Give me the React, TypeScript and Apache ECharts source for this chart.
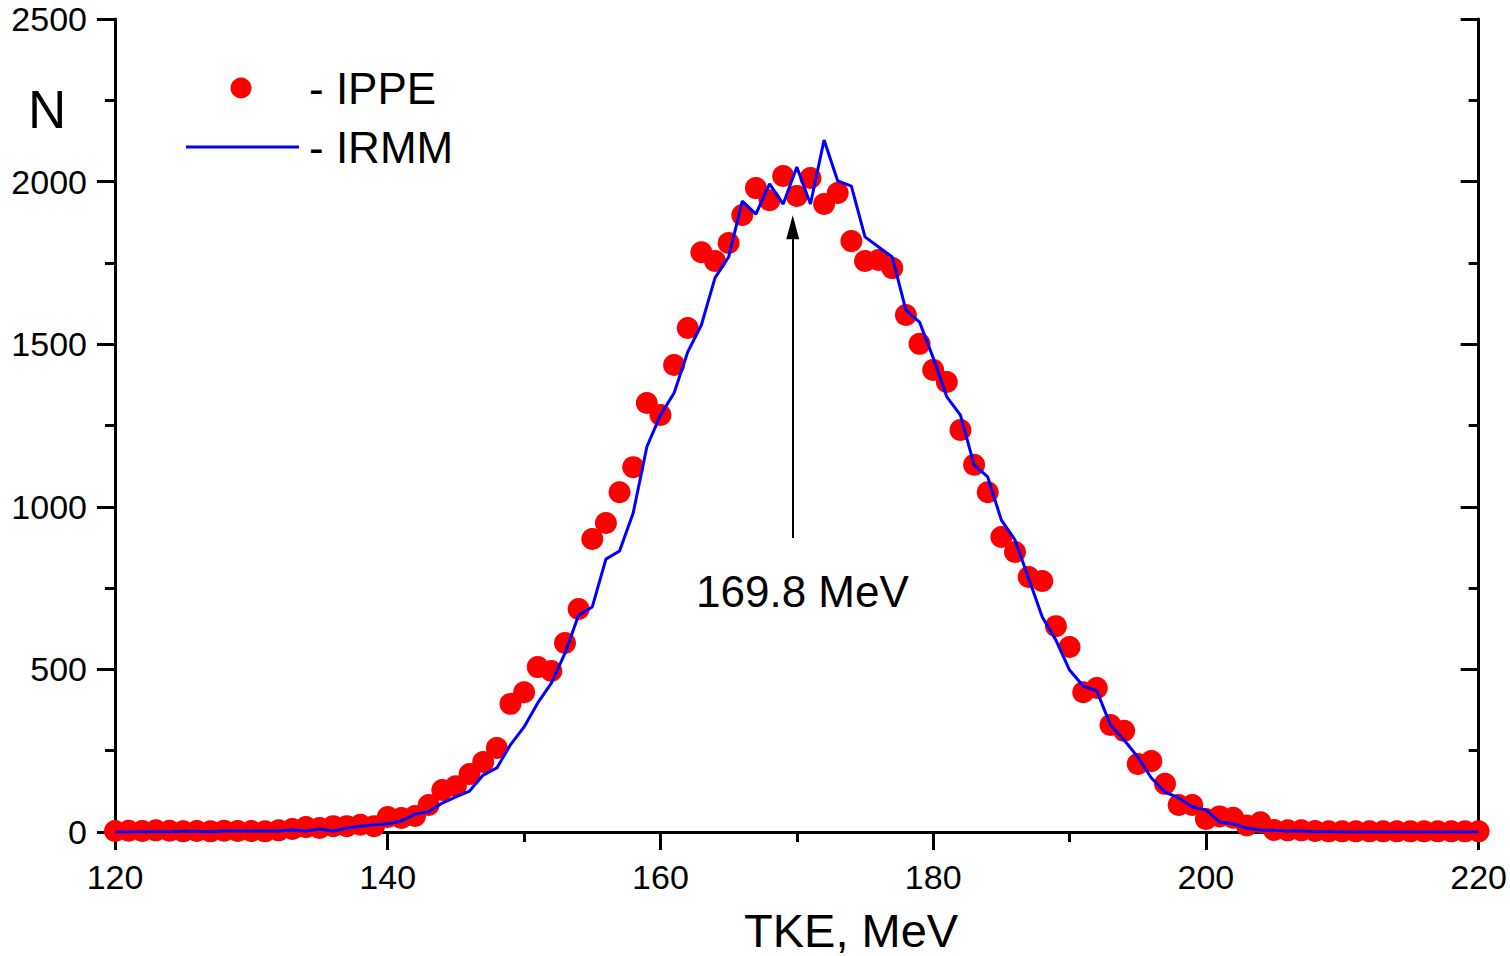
import React, { useEffect, useRef } from "react";
import * as echarts from "echarts";

const energies = [
  120, 121, 122, 123, 124, 125, 126, 127, 128, 129,
  130, 131, 132, 133, 134, 135, 136, 137, 138, 139,
  140, 141, 142, 143, 144, 145, 146, 147, 148, 149,
  150, 151, 152, 153, 154, 155, 156, 157, 158, 159,
  160, 161, 162, 163, 164, 165, 166, 167, 168, 169,
  170, 171, 172, 173, 174, 175, 176, 177, 178, 179,
  180, 181, 182, 183, 184, 185, 186, 187, 188, 189,
  190, 191, 192, 193, 194, 195, 196, 197, 198, 199,
  200, 201, 202, 203, 204, 205, 206, 207, 208, 209,
  210, 211, 212, 213, 214, 215, 216, 217, 218, 219,
  220,
];

const ippe = [
  3, 4, 3, 5, 4, 2, 3, 2, 4, 3,
  3, 2, 5, 9, 15, 12, 18, 18, 22, 18,
  46, 43, 49, 83, 129, 141, 178, 215, 258, 394,
  430, 507, 495, 581, 686, 901, 950, 1045, 1122, 1319,
  1282, 1436, 1550, 1783, 1756, 1811, 1897, 1980, 1943, 2017,
  1956, 2011, 1931, 1965, 1817, 1756, 1759, 1734, 1590, 1501,
  1421, 1384, 1236, 1129, 1045, 907, 861, 784, 772, 633,
  569, 430, 443, 329, 311, 209, 218, 148, 83, 83,
  40, 48, 44, 20, 30, 6, 5, 5, 3, 2,
  2, 2, 2, 2, 2, 2, 2, 2, 2, 2,
  2,
];

const irmm = [
  0, 0, 1, 1, 1, 2, 2, 1, 3, 3,
  3, 3, 3, 6, 3, 9, 3, 12, 18, 22,
  25, 34, 55, 62, 89, 108, 126, 175, 197, 268,
  323, 397, 458, 550, 667, 692, 839, 864, 981, 1184,
  1282, 1350, 1476, 1559, 1704, 1768, 1940, 1900, 1993, 1931,
  2045, 1931, 2128, 2002, 1986, 1830, 1799, 1768, 1605, 1568,
  1458, 1338, 1282, 1129, 1092, 959, 898, 780, 661, 590,
  498, 449, 434, 329, 283, 231, 166, 123, 105, 77,
  68, 31, 25, 12, 6, 5, 3, 3, 1, 1,
  0, 0, 0, 0, 0, 0, 0, 0, 0, 0,
  0,
];

const arrowEnergy = 169.7;
const arrowFrom = 904;
const arrowTo = 1860;
const arrowLabel = "169.8 MeV";

const FONT = "'Liberation Sans', Arial, sans-serif";

export default function App() {
  const ref = useRef<HTMLDivElement>(null);

  useEffect(() => {
    if (!ref.current) return;
    const chart = echarts.init(ref.current, null, { renderer: "svg" });

    const axisLine = { show: true, lineStyle: { color: "#000", width: 3 } };
    const plain = (v: number) => String(v);

    const option: any = {
      animation: false,
      backgroundColor: "#fff",
      grid: { left: 115, right: 31, top: 19, bottom: 124, containLabel: false },
      xAxis: [
        {
          type: "value",
          position: "bottom",
          min: 120,
          max: 220,
          interval: 20,
          axisLine,
          axisTick: { show: true, inside: false, length: 18, lineStyle: { color: "#000", width: 3 } },
          minorTick: { show: true, splitNumber: 2, length: 9, lineStyle: { color: "#000", width: 3 } },
          splitLine: { show: false },
          axisLabel: { color: "#000", fontSize: 34, fontFamily: FONT, margin: 28, formatter: plain },
        },
        {
          type: "value",
          position: "top",
          min: 120,
          max: 220,
          interval: 20,
          axisLine,
          axisTick: { show: true, inside: true, length: 18, lineStyle: { color: "#000", width: 3 } },
          minorTick: { show: true, splitNumber: 2, length: 10, lineStyle: { color: "#000", width: 3 } },
          splitLine: { show: false },
          axisLabel: { show: false },
        },
      ],
      yAxis: [
        {
          type: "value",
          position: "left",
          min: 0,
          max: 2500,
          interval: 500,
          axisLine,
          axisTick: { show: true, inside: false, length: 18, lineStyle: { color: "#000", width: 3 } },
          minorTick: { show: true, splitNumber: 2, length: 10, lineStyle: { color: "#000", width: 3 } },
          splitLine: { show: false },
          axisLabel: { color: "#000", fontSize: 34, fontFamily: FONT, margin: 28, formatter: plain },
        },
        {
          type: "value",
          position: "right",
          min: 0,
          max: 2500,
          interval: 500,
          axisLine,
          axisTick: { show: true, inside: true, length: 18, lineStyle: { color: "#000", width: 3 } },
          minorTick: { show: true, splitNumber: 2, length: 10, lineStyle: { color: "#000", width: 3 } },
          splitLine: { show: false },
          axisLabel: { show: false },
        },
      ],
      series: [
        {
          name: "IPPE",
          type: "scatter",
          xAxisIndex: 0,
          yAxisIndex: 0,
          symbol: "circle",
          symbolSize: 22,
          itemStyle: { color: "#ff0000", opacity: 1 },
          data: energies.map((e, i) => [e, ippe[i]]),
          z: 2,
        },
        {
          name: "IRMM",
          type: "line",
          xAxisIndex: 0,
          yAxisIndex: 0,
          symbol: "none",
          lineStyle: { color: "#0000ff", width: 3 },
          data: energies.map((e, i) => [e, irmm[i]]),
          z: 3,
          markLine: {
            silent: true,
            symbol: ["none", "triangle"],
            symbolSize: [13, 24],
            lineStyle: { color: "#000", width: 2, type: "solid" },
            label: { show: false },
            data: [[{ coord: [arrowEnergy, arrowFrom] }, { coord: [arrowEnergy, arrowTo] }]],
          },
        },
      ],
      graphic: [
        {
          type: "text",
          x: 696,
          y: 591,
          style: { text: arrowLabel, fontSize: 44, fontFamily: FONT, fill: "#000", textVerticalAlign: "middle" },
        },
        {
          type: "text",
          x: 28,
          y: 109,
          style: { text: "N", fontSize: 53, fontFamily: FONT, fill: "#000", textVerticalAlign: "middle" },
        },
        {
          type: "text",
          x: 744,
          y: 930,
          style: { text: "TKE, MeV", fontSize: 47, fontFamily: FONT, fill: "#000", textVerticalAlign: "middle" },
        },
        {
          type: "circle",
          shape: { cx: 241, cy: 88, r: 10.5 },
          style: { fill: "#ff0000" },
        },
        {
          type: "line",
          shape: { x1: 186, y1: 147, x2: 299, y2: 147 },
          style: { stroke: "#0000ff", lineWidth: 3 },
        },
        {
          type: "text",
          x: 309,
          y: 88,
          style: { text: "- IPPE", fontSize: 44, fontFamily: FONT, fill: "#000", textVerticalAlign: "middle" },
        },
        {
          type: "text",
          x: 309,
          y: 147,
          style: { text: "- IRMM", fontSize: 44, fontFamily: FONT, fill: "#000", textVerticalAlign: "middle" },
        },
      ],
    };

    chart.setOption(option);
    return () => chart.dispose();
  }, []);

  return (
    <div
      ref={ref}
      style={{ position: "fixed", left: 0, top: 0, width: 1510, height: 956, background: "#fff" }}
    />
  );
}
